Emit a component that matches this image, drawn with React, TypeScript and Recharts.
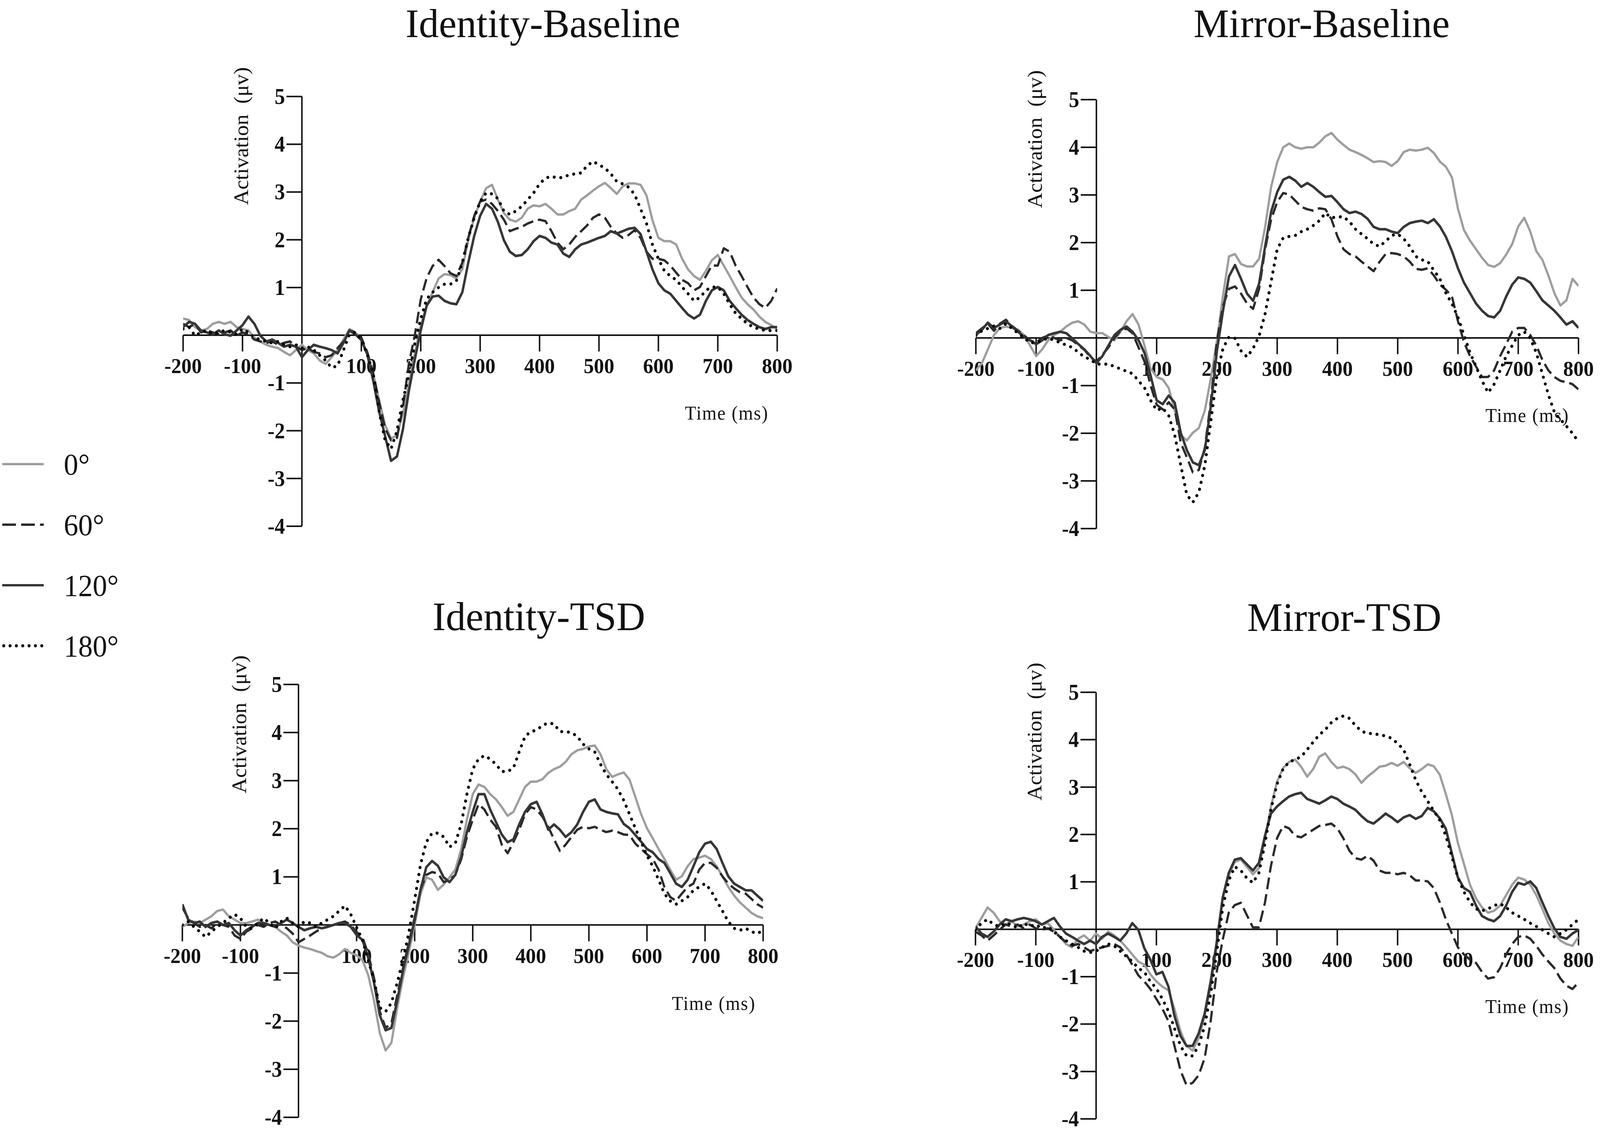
import React from 'react';
import { LineChart, Line, XAxis, YAxis, ReferenceLine, ReferenceDot } from 'recharts';

// sampling grid (ms), one value every 10 ms
const TIME = [
  -200, -190, -180, -170, -160, -150, -140, -130, -120, -110,
  -100, -90, -80, -70, -60, -50, -40, -30, -20, -10,
  0, 10, 20, 30, 40, 50, 60, 70, 80, 90,
  100, 110, 120, 130, 140, 150, 160, 170, 180, 190,
  200, 210, 220, 230, 240, 250, 260, 270, 280, 290,
  300, 310, 320, 330, 340, 350, 360, 370, 380, 390,
  400, 410, 420, 430, 440, 450, 460, 470, 480, 490,
  500, 510, 520, 530, 540, 550, 560, 570, 580, 590,
  600, 610, 620, 630, 640, 650, 660, 670, 680, 690,
  700, 710, 720, 730, 740, 750, 760, 770, 780, 790,
  800,
];

const X_TICKS = [-200, -100, 100, 200, 300, 400, 500, 600, 700, 800];
const Y_TICKS = [5, 4, 3, 2, 1, -1, -2, -3, -4];
const LEGEND_LABELS = ['0°', '60°', '120°', '180°'];
const TITLES = ['Identity-Baseline', 'Mirror-Baseline', 'Identity-TSD', 'Mirror-TSD'];

// Identity-Baseline
const IB_0 = [
  0.35, 0.32, 0.17, 0.1, 0.13, 0.24, 0.28, 0.24, 0.28, 0.17,
  0.13, 0.1, -0.05, -0.13, -0.2, -0.24, -0.27, -0.35, -0.42, -0.31,
  -0.2, -0.31, -0.38, -0.53, -0.6, -0.46, -0.31, -0.09, 0.13, 0.06,
  -0.08, -0.37, -0.8, -1.36, -1.88, -2.16, -2.1, -1.64, -1.03, -0.37,
  0.2, 0.62, 0.9, 1.19, 1.28, 1.26, 1.19, 1.38, 2.0, 2.46,
  2.8, 3.08, 3.15, 2.84, 2.56, 2.42, 2.38, 2.46, 2.65, 2.72,
  2.7, 2.75, 2.65, 2.53, 2.53, 2.6, 2.65, 2.84, 2.93, 3.03,
  3.12, 3.19, 3.08, 2.96, 3.12, 3.18, 3.18, 3.15, 2.93, 2.41,
  2.04, 1.97, 1.97, 1.9, 1.6, 1.38, 1.24, 1.16, 1.35, 1.57,
  1.68, 1.46, 1.24, 1.01, 0.79, 0.65, 0.54, 0.39, 0.28, 0.21,
  0.13,
];
const IB_60 = [
  0.24, 0.17, 0.24, 0.06, 0.1, 0.06, 0.02, 0.06, 0.1, -0.01,
  0.06, 0.02, -0.09, -0.13, -0.16, -0.13, -0.2, -0.16, -0.13, -0.24,
  -0.31, -0.27, -0.35, -0.38, -0.46, -0.42, -0.27, -0.13, 0.1, 0.06,
  -0.05, -0.35, -0.8, -1.4, -1.95, -2.2, -2.15, -1.5, -0.6, 0.0,
  0.75, 1.2, 1.45, 1.58, 1.45, 1.3, 1.24, 1.52, 2.04, 2.5,
  2.8, 2.84, 2.75, 2.6, 2.42, 2.18, 2.23, 2.27, 2.34, 2.39,
  2.42, 2.39, 2.18, 1.94, 1.8, 1.9, 2.06, 2.18, 2.3, 2.46,
  2.53, 2.46, 2.27, 2.13, 2.04, 2.1, 2.2, 2.04, 1.75, 1.6,
  1.6, 1.57, 1.46, 1.31, 1.16, 1.09, 0.94, 1.01, 1.24, 1.46,
  1.46, 1.82, 1.75, 1.46, 1.24, 1.01, 0.79, 0.65, 0.57, 0.72,
  0.98,
];
const IB_120 = [
  0.17, 0.28, 0.24, 0.1, 0.06, 0.02, 0.1, 0.02, -0.01, 0.1,
  0.21, 0.39, 0.24, -0.01, -0.13, -0.09, -0.16, -0.24, -0.2, -0.24,
  -0.46, -0.31, -0.2, -0.24, -0.27, -0.31, -0.38, -0.16, 0.1, 0.02,
  -0.1, -0.4, -0.95, -1.6, -2.11, -2.63, -2.54, -1.97, -1.17, -0.51,
  0.1, 0.62, 0.81, 0.83, 0.72, 0.67, 0.65, 0.9, 1.52, 2.08,
  2.5, 2.75, 2.65, 2.37, 1.99, 1.75, 1.66, 1.68, 1.8, 1.97,
  2.08, 2.04, 1.94, 1.9, 1.71, 1.64, 1.8, 1.9, 1.94, 1.99,
  2.04, 2.08, 2.18, 2.13, 2.18, 2.23, 2.25, 2.12, 1.75, 1.38,
  1.09, 0.94, 0.87, 0.72, 0.57, 0.43, 0.35, 0.43, 0.72, 0.94,
  1.01, 0.94, 0.72, 0.57, 0.43, 0.32, 0.24, 0.17, 0.13, 0.17,
  0.17,
];
const IB_180 = [
  0.13, 0.17, -0.01, 0.06, 0.1, 0.02, 0.06, 0.1, 0.06, 0.02,
  0.13, 0.06, -0.05, -0.09, -0.13, -0.16, -0.13, -0.2, -0.24, -0.2,
  -0.27, -0.24, -0.31, -0.42, -0.53, -0.68, -0.64, -0.31, 0.02, 0.06,
  -0.1, -0.4, -0.8, -1.6, -2.2, -2.38, -2.0, -1.36, -0.84, -0.18,
  0.34, 0.76, 0.9, 1.0, 1.07, 1.07, 1.14, 1.52, 2.04, 2.46,
  2.8, 2.98, 2.96, 2.86, 2.6, 2.53, 2.6, 2.7, 2.84, 2.98,
  3.17, 3.29, 3.33, 3.29, 3.31, 3.36, 3.38, 3.4, 3.55, 3.64,
  3.57, 3.5, 3.38, 3.22, 3.17, 3.1, 2.95, 2.65, 2.34, 1.9,
  1.6, 1.35, 1.24, 1.16, 1.01, 0.87, 0.72, 0.79, 0.94, 1.01,
  1.01, 0.87, 0.65, 0.46, 0.35, 0.24, 0.17, 0.13, 0.1, 0.1,
  0.1,
];

// Mirror-Baseline
const MB_0 = [
  -0.68, -0.53, -0.24, 0.06, 0.21, 0.24, 0.21, 0.17, 0.06, -0.16,
  -0.38, -0.24, -0.05, 0.06, 0.13, 0.24, 0.32, 0.35, 0.28, 0.13,
  0.1, 0.1, 0.02, -0.05, 0.13, 0.35, 0.5, 0.28, -0.17, -0.64,
  -0.82, -0.87, -1.05, -1.52, -2.04, -2.15, -1.99, -1.89, -1.52, -0.84,
  -0.06, 0.88, 1.71, 1.76, 1.55, 1.5, 1.5, 1.66, 2.33, 3.17,
  3.69, 4.0, 4.08, 4.0, 3.97, 4.0, 4.0, 4.1, 4.23, 4.3,
  4.16, 4.05, 3.95, 3.9, 3.84, 3.77, 3.69, 3.71, 3.69, 3.61,
  3.71, 3.9, 3.95, 3.93, 3.95, 3.99, 3.88, 3.7, 3.59, 3.37,
  2.71, 2.26, 2.04, 1.86, 1.68, 1.53, 1.49, 1.57, 1.75, 1.97,
  2.34, 2.52, 2.23, 1.82, 1.64, 1.31, 0.94, 0.68, 0.79, 1.24,
  1.09,
];
const MB_60 = [
  0.1, 0.2, 0.3, 0.15, 0.3, 0.38, 0.25, 0.15, 0.05, -0.05,
  -0.1, 0.0, 0.05, 0.0, -0.05, 0.0, -0.05, -0.15, -0.25, -0.4,
  -0.5, -0.35, -0.2, 0.0, 0.15, 0.2, 0.1, -0.2, -0.5, -1.0,
  -1.4, -1.5, -1.35, -1.5, -2.2, -2.5, -2.82, -2.77, -2.3, -1.31,
  -0.06, 0.67, 1.03, 1.08, 0.93, 0.72, 0.61, 1.03, 1.86, 2.49,
  2.85, 3.04, 3.01, 2.88, 2.75, 2.7, 2.67, 2.72, 2.7, 2.49,
  2.13, 1.86, 1.76, 1.71, 1.6, 1.5, 1.4, 1.6, 1.76, 1.78,
  1.76, 1.71, 1.6, 1.45, 1.43, 1.46, 1.31, 1.12, 1.01, 0.87,
  0.35, -0.09, -0.38, -0.6, -0.82, -0.82, -0.68, -0.38, -0.13, 0.13,
  0.21, 0.21, 0.06, -0.16, -0.46, -0.68, -0.82, -0.9, -0.93, -0.97,
  -1.08,
];
const MB_120 = [
  0.06, 0.17, 0.32, 0.21, 0.28, 0.35, 0.24, 0.13, 0.02, -0.05,
  -0.13, -0.05, 0.06, 0.1, 0.13, 0.1, -0.01, -0.13, -0.24, -0.38,
  -0.53, -0.38, -0.16, 0.06, 0.17, 0.24, 0.13, -0.05, -0.32, -0.79,
  -1.31, -1.39, -1.21, -1.36, -1.99, -2.35, -2.61, -2.67, -2.35, -1.42,
  -0.27, 0.56, 1.29, 1.53, 1.24, 0.93, 0.78, 1.14, 1.92, 2.65,
  3.06, 3.32, 3.38, 3.3, 3.17, 3.25, 3.17, 3.06, 2.96, 2.98,
  2.85, 2.7, 2.62, 2.65, 2.6, 2.5, 2.33, 2.28, 2.28, 2.23,
  2.2, 2.33, 2.41, 2.44, 2.46, 2.41, 2.49, 2.34, 2.12, 1.82,
  1.46, 1.16, 0.94, 0.72, 0.57, 0.46, 0.43, 0.57, 0.87, 1.12,
  1.27, 1.24, 1.16, 0.98, 0.79, 0.68, 0.57, 0.43, 0.28, 0.35,
  0.21,
];
const MB_180 = [
  0.05, 0.15, 0.2, 0.25, 0.2, 0.3, 0.2, 0.1, 0.0, -0.1,
  -0.1, -0.05, 0.0, -0.05, -0.1, -0.15, -0.2, -0.3, -0.4, -0.45,
  -0.55, -0.55, -0.55, -0.6, -0.65, -0.7, -0.75, -0.9, -1.05, -1.31,
  -1.52, -1.47, -1.63, -2.04, -2.67, -3.29, -3.45, -3.24, -2.67, -1.73,
  -0.79, -0.22, 0.02, -0.01, -0.27, -0.4, -0.22, 0.04, 0.51, 1.19,
  1.86, 2.1, 2.13, 2.15, 2.23, 2.28, 2.36, 2.46, 2.62, 2.52,
  2.54, 2.54, 2.44, 2.28, 2.18, 2.08, 1.97, 1.92, 2.03, 2.15,
  2.18, 2.08, 1.92, 1.71, 1.64, 1.6, 1.42, 1.24, 0.94, 0.72,
  0.43, 0.06, -0.31, -0.6, -0.9, -1.15, -0.97, -0.68, -0.38, -0.16,
  0.06, 0.13, -0.01, -0.31, -0.75, -1.19, -1.56, -1.71, -1.85, -2.0,
  -2.18,
];

// Identity-TSD
const IT_0 = [
  -0.04, 0.04, 0.07, 0.04, 0.11, 0.18, 0.29, 0.32, 0.18, 0.11,
  0.04, 0.04, 0.07, 0.11, 0.04, 0, -0.04, -0.14, -0.22, -0.36,
  -0.43, -0.47, -0.5, -0.54, -0.58, -0.65, -0.68, -0.61, -0.5, -0.58,
  -0.63, -0.73, -1.04, -1.57, -2.25, -2.61, -2.45, -1.72, -1.1, -0.57,
  0, 0.63, 0.99, 0.94, 0.73, 0.84, 0.99, 1.15, 1.57, 2.19,
  2.72, 2.92, 2.87, 2.72, 2.61, 2.45, 2.27, 2.35, 2.61, 2.87,
  2.98, 2.98, 3.03, 3.16, 3.24, 3.29, 3.39, 3.55, 3.63, 3.66,
  3.71, 3.73, 3.55, 3.24, 3.08, 3.13, 3.17, 3.02, 2.66, 2.3,
  2.01, 1.8, 1.58, 1.37, 1.15, 0.94, 1.01, 1.22, 1.37, 1.4,
  1.44, 1.37, 1.22, 1.01, 0.79, 0.61, 0.47, 0.36, 0.25, 0.18,
  0.14,
];
const IT_60 = [
  0.36, 0.14, 0.04, -0.04, 0, -0.07, 0.04, 0, -0.04, -0.22,
  -0.29, -0.14, -0.07, 0, -0.04, 0.04, 0.07, 0, -0.07, -0.18,
  -0.36, -0.29, -0.22, -0.14, -0.07, -0.04, 0, 0.04, 0.07, 0,
  -0.15, -0.25, -0.6, -1.1, -1.8, -2.14, -2.04, -1.46, -0.89, -0.37,
  0.16, 0.73, 1.04, 1.1, 1.07, 0.89, 0.94, 1.04, 1.36, 1.83,
  2.19, 2.51, 2.4, 2.19, 2.04, 1.67, 1.49, 1.72, 1.98, 2.3,
  2.45, 2.4, 2.25, 2.04, 1.78, 1.54, 1.67, 1.83, 1.98, 2.04,
  2.01, 2.04, 1.98, 1.93, 1.96, 1.93, 1.88, 1.87, 1.69, 1.58,
  1.47, 1.37, 1.15, 0.79, 0.58, 0.5, 0.65, 0.79, 0.86, 1.15,
  1.29, 1.29, 1.19, 1.01, 0.86, 0.76, 0.68, 0.65, 0.54, 0.43,
  0.36,
];
const IT_120 = [
  0.43, 0.11, 0.04, 0.07, -0.04, 0.04, 0.07, 0, 0.04, -0.11,
  -0.22, -0.11, -0.04, 0.04, 0.04, 0, -0.04, 0.04, 0.11, 0.04,
  -0.04, -0.11, -0.07, -0.04, -0.07, -0.04, 0, 0.04, 0.04, -0.04,
  -0.21, -0.31, -0.68, -1.2, -1.88, -2.19, -2.14, -1.57, -0.94, -0.42,
  0.1, 0.73, 1.2, 1.33, 1.23, 0.99, 0.89, 1.04, 1.41, 1.93,
  2.35, 2.72, 2.72, 2.4, 2.14, 1.88, 1.72, 1.78, 2.09, 2.35,
  2.51, 2.56, 2.3, 1.98, 2.09, 1.98, 1.83, 1.93, 2.09, 2.35,
  2.56, 2.61, 2.4, 2.35, 2.32, 2.3, 2.1, 2.01, 1.87, 1.73,
  1.58, 1.51, 1.37, 1.29, 1.08, 0.86, 0.79, 0.94, 1.22, 1.51,
  1.69, 1.73, 1.58, 1.29, 1.01, 0.86, 0.79, 0.72, 0.72, 0.61,
  0.5,
];
const IT_180 = [
  0, 0.07, -0.04, -0.14, -0.25, -0.14, -0.04, 0.04, 0.14, 0.22,
  0.14, -0.04, -0.07, 0.04, 0.14, 0.04, -0.07, 0.07, 0.14, 0.04,
  -0.04, 0.07, 0.04, -0.04, 0.04, 0.11, 0.18, 0.29, 0.4, 0.22,
  -0.05, -0.31, -0.73, -1.15, -1.72, -1.8, -1.62, -1.2, -0.73, -0.16,
  0.52, 1.25, 1.72, 1.91, 1.91, 1.83, 1.62, 1.7, 2.09, 2.72,
  3.24, 3.45, 3.52, 3.45, 3.34, 3.19, 3.19, 3.26, 3.6, 3.92,
  4.02, 4.05, 4.15, 4.2, 4.18, 4.02, 4.02, 4.0, 3.92, 3.76,
  3.66, 3.6, 3.34, 3.13, 2.98, 2.82, 2.59, 2.3, 2.01, 1.73,
  1.44, 1.22, 0.94, 0.65, 0.5, 0.43, 0.5, 0.58, 0.72, 0.79,
  0.86, 0.72, 0.5, 0.29, 0.07, -0.07, -0.11, -0.07, -0.14, -0.18,
  -0.11,
];

// Mirror-TSD
const MT_0 = [
  0.02, 0.24, 0.46, 0.35, 0.17, 0.1, 0.17, 0.06, 0.1, 0.17,
  0.21, 0.1, 0.13, -0.01, -0.16, -0.31, -0.38, -0.2, -0.13, -0.24,
  -0.09, -0.2, -0.05, -0.13, -0.24, -0.38, -0.53, -0.68, -0.75, -0.95,
  -1.1, -1.21, -1.29, -1.68, -2.15, -2.46, -2.56, -2.3, -1.83, -1.21,
  -0.38, 0.67, 1.14, 1.42, 1.47, 1.32, 1.16, 1.29, 1.92, 2.59,
  3.11, 3.4, 3.53, 3.58, 3.43, 3.22, 3.38, 3.64, 3.71, 3.53,
  3.4, 3.43, 3.38, 3.27, 3.09, 3.22, 3.32, 3.43, 3.45, 3.51,
  3.45, 3.53, 3.4, 3.3, 3.38, 3.48, 3.44, 3.26, 2.85, 2.41,
  1.82, 1.38, 0.94, 0.65, 0.46, 0.35, 0.39, 0.5, 0.72, 0.94,
  1.09, 1.05, 0.94, 0.72, 0.43, 0.13, -0.09, -0.24, -0.31, -0.35,
  -0.16,
];
const MT_60 = [
  -0.05, -0.13, -0.24, -0.13, -0.01, 0.1, 0.06, 0.1, 0.02, 0.1,
  0.02, -0.01, 0.02, -0.05, -0.16, -0.27, -0.35, -0.31, -0.38, -0.46,
  -0.42, -0.38, -0.35, -0.31, -0.38, -0.53, -0.75, -0.97, -1.1, -1.26,
  -1.47, -1.68, -1.94, -2.46, -2.98, -3.29, -3.24, -3.08, -2.72, -1.94,
  -0.9, -0.22, 0.35, 0.51, 0.56, 0.3, 0.04, 0.04, 0.56, 1.34,
  1.92, 2.18, 2.13, 1.97, 1.94, 2.02, 2.1, 2.18, 2.2, 2.23,
  2.13, 1.92, 1.66, 1.5, 1.47, 1.55, 1.45, 1.24, 1.19, 1.19,
  1.16, 1.19, 1.14, 1.03, 1.03, 1.01, 0.87, 0.57, 0.21, -0.09,
  -0.38, -0.53, -0.64, -0.71, -0.9, -1.04, -1.01, -0.82, -0.53, -0.31,
  -0.16, -0.13, -0.2, -0.35, -0.53, -0.68, -0.82, -1.04, -1.19, -1.26,
  -1.12,
];
const MT_120 = [
  0.06, -0.09, -0.16, -0.05, 0.1, 0.21, 0.17, 0.21, 0.24, 0.21,
  0.17, 0.1, 0.17, 0.24, 0.06, -0.09, -0.16, -0.24, -0.31, -0.24,
  -0.31, -0.16, -0.09, -0.16, -0.24, -0.09, 0.13, -0.01, -0.4, -0.64,
  -0.95, -0.9, -1.21, -1.83, -2.25, -2.46, -2.46, -2.2, -1.78, -1.1,
  -0.27, 0.67, 1.19, 1.47, 1.5, 1.37, 1.24, 1.4, 1.97, 2.44,
  2.59, 2.7, 2.8, 2.85, 2.88, 2.75, 2.7, 2.65, 2.72, 2.8,
  2.75, 2.65, 2.59, 2.52, 2.39, 2.28, 2.23, 2.33, 2.44, 2.36,
  2.26, 2.36, 2.41, 2.33, 2.39, 2.56, 2.49, 2.34, 2.12, 1.6,
  1.09, 0.87, 0.79, 0.5, 0.28, 0.21, 0.17, 0.28, 0.5, 0.79,
  0.98, 0.94, 1.01, 0.87, 0.57, 0.28, 0.02, -0.16, -0.2, -0.09,
  -0.01,
];
const MT_180 = [
  -0.01, 0.13, 0.21, 0.1, 0.06, 0.13, 0.1, 0.02, 0.13, 0.06,
  0.1, 0.02, 0.06, -0.05, -0.16, -0.24, -0.31, -0.38, -0.46, -0.49,
  -0.46, -0.38, -0.31, -0.35, -0.46, -0.57, -0.68, -0.82, -0.9, -1.1,
  -1.25, -1.47, -1.73, -2.09, -2.46, -2.67, -2.67, -2.46, -2.04, -1.36,
  -0.48, 0.46, 1.03, 1.32, 1.24, 1.08, 0.98, 1.19, 1.81, 2.54,
  3.06, 3.38, 3.53, 3.58, 3.64, 3.79, 3.95, 4.1, 4.21, 4.36,
  4.45, 4.5, 4.45, 4.3, 4.18, 4.13, 4.13, 4.1, 4.08, 4.03,
  3.92, 3.79, 3.48, 3.15, 2.9, 2.7, 2.5, 2.3, 1.97, 1.53,
  1.09, 0.79, 0.57, 0.43, 0.39, 0.43, 0.5, 0.54, 0.46, 0.35,
  0.28, 0.21, 0.13, 0.06, -0.01, -0.09, -0.16, -0.09, -0.01, 0.1,
  0.21,
];

const FONT = "'Liberation Serif', 'Times New Roman', Times, serif";
const INK = '#111111';

// design size of the figure; the whole sheet is scaled to the visible viewport
const SHEET_W = 4317;
const SHEET_H = 2895;

// one style per rotation condition: 0°, 60°, 120°, 180°
const SERIES_STYLES = [
  { key: 'a0', stroke: '#9e9e9e', width: 6, dash: undefined, cap: 'butt' },
  { key: 'a60', stroke: '#2a2a2a', width: 6, dash: '30 13', cap: 'butt' },
  { key: 'a120', stroke: '#363636', width: 6.5, dash: undefined, cap: 'butt' },
  { key: 'a180', stroke: '#0a0a0a', width: 8, dash: '0.1 18', cap: 'round' },
];

const X_TICK_LEN = 0.34; // µV, ticks hang below the zero line
const Y_TICK_LEN = 26; // ms, ticks stick out left of the y axis

const ML = 70;
const MR = 55;
const MT = 110;
const MB = 30;

type Rect = { left: number; top: number; right: number; bottom: number };

const xTickLabel = (v: number) => (p: any) => {
  const vb = p.viewBox ?? { x: 0, y: 0, width: 0, height: 0 };
  return (
    <text
      x={vb.x + vb.width / 2}
      y={vb.y + vb.height + 37}
      textAnchor="middle"
      dominantBaseline="central"
      fontFamily={FONT}
      fontWeight={700}
      fontSize={55}
      fill={INK}
    >
      {v}
    </text>
  );
};

const yTickLabel = (v: number) => (p: any) => {
  const vb = p.viewBox ?? { x: 0, y: 0, width: 0, height: 0 };
  return (
    <text
      x={vb.x - 4}
      y={vb.y + vb.height / 2}
      textAnchor="end"
      dominantBaseline="central"
      fontFamily={FONT}
      fontWeight={700}
      fontSize={56}
      fill={INK}
    >
      {v}
    </text>
  );
};

const yTitle = (p: any) => {
  const vb = p.viewBox ?? { x: 0, y: 0 };
  return (
    <text
      x={vb.x}
      y={vb.y}
      transform={`rotate(-90 ${vb.x} ${vb.y})`}
      textAnchor="middle"
      dominantBaseline="central"
      fontFamily={FONT}
      fontSize={55}
      fill={INK}
      style={{ whiteSpace: 'pre' }}
    >
      {'Activation  (μv)'}
    </text>
  );
};

const xTitle = (p: any) => {
  const vb = p.viewBox ?? { x: 0, y: 0 };
  return (
    <text
      x={vb.x}
      y={vb.y}
      textAnchor="middle"
      dominantBaseline="central"
      fontFamily={FONT}
      fontSize={50}
      letterSpacing={2}
      fill={INK}
    >
      Time (ms)
    </text>
  );
};

function Panel({ title, rect, titleX, titleY, series }: {
  title: string;
  rect: Rect;
  titleX: number;
  titleY: number;
  series: number[][];
}) {
  const data = TIME.map((t, i) => ({
    t,
    a0: series[0][i],
    a60: series[1][i],
    a120: series[2][i],
    a180: series[3][i],
  }));
  const w = rect.right - rect.left + ML + MR;
  const h = rect.bottom - rect.top + MT + MB;

  return (
    <>
      <div
        style={{
          position: 'absolute',
          left: titleX - 700,
          top: titleY - 52,
          width: 1400,
          textAlign: 'center',
          fontFamily: FONT,
          fontSize: 104,
          lineHeight: '104px',
          color: INK,
          transform: 'scaleX(1.035)',
          whiteSpace: 'nowrap',
        }}
      >
        {title}
      </div>
      <div style={{ position: 'absolute', left: rect.left - ML, top: rect.top - MT }}>
        <LineChart width={w} height={h} data={data} margin={{ top: MT, right: MR, bottom: MB, left: ML }}>
          <XAxis type="number" dataKey="t" domain={[-200, 800]} hide allowDataOverflow />
          <YAxis type="number" domain={[-4, 5]} hide allowDataOverflow />

          <ReferenceLine y={0} stroke={INK} strokeWidth={4} />
          <ReferenceLine x={0} stroke={INK} strokeWidth={4} />
          {X_TICKS.map((v) => (
            <ReferenceLine
              key={`xt-${v}`}
              segment={[{ x: v, y: 0 }, { x: v, y: -X_TICK_LEN }]}
              stroke={INK}
              strokeWidth={4}
              label={xTickLabel(v)}
            />
          ))}
          {Y_TICKS.map((v) => (
            <ReferenceLine
              key={`yt-${v}`}
              segment={[{ x: -Y_TICK_LEN, y: v }, { x: 0, y: v }]}
              stroke={INK}
              strokeWidth={4}
              label={yTickLabel(v)}
            />
          ))}
          <ReferenceDot x={-102} y={4.17} r={0} fill="none" stroke="none" label={yTitle} />
          <ReferenceDot x={715} y={-1.63} r={0} fill="none" stroke="none" label={xTitle} />

          {SERIES_STYLES.map((s) => (
            <Line
              key={s.key}
              type="linear"
              dataKey={s.key}
              stroke={s.stroke}
              strokeWidth={s.width}
              strokeDasharray={s.dash}
              strokeLinecap={s.cap as any}
              strokeLinejoin="round"
              dot={false}
              activeDot={false}
              isAnimationActive={false}
            />
          ))}
        </LineChart>
      </div>
    </>
  );
}

function LegendBlock() {
  const top = 1100;
  return (
    <svg style={{ position: 'absolute', left: 0, top }} width={420} height={640}>
      {LEGEND_LABELS.map((label, i) => {
        const y = 88 + i * 155;
        const s = SERIES_STYLES[i];
        const dash = i === 1 ? '37 14' : i === 3 ? '0.1 17' : undefined;
        return (
          <g key={label}>
            <line
              x1={i === 3 ? 10 : 6}
              x2={118}
              y1={y}
              y2={y}
              stroke={s.stroke}
              strokeWidth={i === 3 ? 8 : 6}
              strokeDasharray={dash}
              strokeLinecap={i === 3 ? 'round' : 'butt'}
            />
            <text x={172} y={y} dominantBaseline="central" fontFamily={FONT} fontSize={78} fill={INK}>
              {label}
            </text>
          </g>
        );
      })}
    </svg>
  );
}

export default function App() {
  // the capture can be narrower than the requested window, so fit the sheet to what is visible
  const vw = typeof window !== 'undefined' ? Math.min(window.innerWidth || SHEET_W, 4096) : SHEET_W;
  const vh = typeof window !== 'undefined' ? Math.min(window.innerHeight || SHEET_H, SHEET_H) : SHEET_H;
  const sx = Math.min(vw, SHEET_W) / SHEET_W;
  const sy = vh / SHEET_H;

  return (
    <div
      style={{
        position: 'fixed',
        left: 0,
        top: 0,
        width: SHEET_W,
        height: SHEET_H,
        background: '#ffffff',
        overflow: 'hidden',
        transform: `scale(${sx}, ${sy})`,
        transformOrigin: '0 0',
      }}
    >
      <Panel
        title={TITLES[0]}
        rect={{ left: 494, top: 247, right: 2097, bottom: 1347 }}
        titleX={1465}
        titleY={60}
        series={[IB_0, IB_60, IB_120, IB_180]}
      />
      <Panel
        title={TITLES[1]}
        rect={{ left: 2633, top: 255, right: 4259, bottom: 1353 }}
        titleX={3566}
        titleY={60}
        series={[MB_0, MB_60, MB_120, MB_180]}
      />
      <Panel
        title={TITLES[2]}
        rect={{ left: 492, top: 1752, right: 2059, bottom: 2860 }}
        titleX={1454}
        titleY={1578}
        series={[IT_0, IT_60, IT_120, IT_180]}
      />
      <Panel
        title={TITLES[3]}
        rect={{ left: 2632, top: 1772, right: 4259, bottom: 2864 }}
        titleX={3627}
        titleY={1580}
        series={[MT_0, MT_60, MT_120, MT_180]}
      />
      <LegendBlock />
    </div>
  );
}
